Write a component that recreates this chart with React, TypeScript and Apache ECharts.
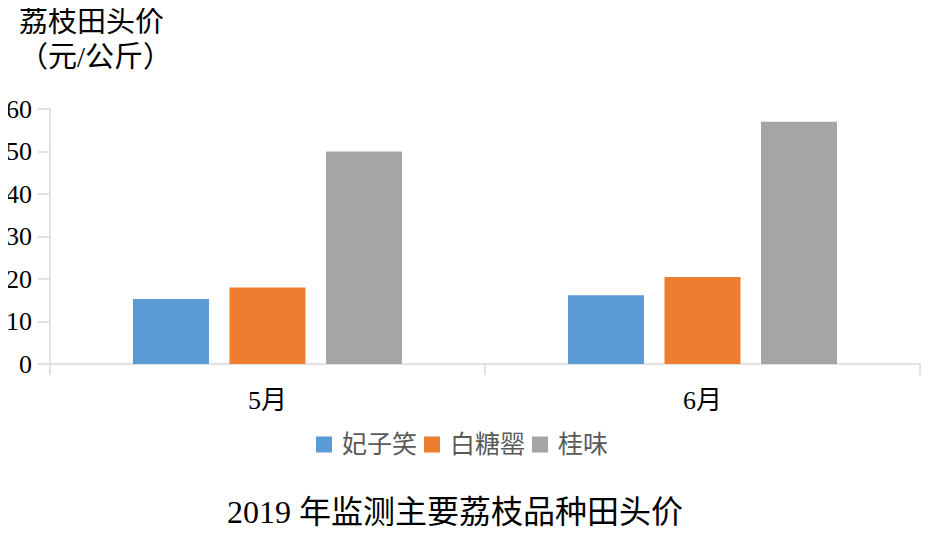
import React, { useEffect, useRef } from "react";
import * as echarts from "echarts";

const categories = ["5月", "6月"];
const seriesNames = ["妃子笑", "白糖罂", "桂味"];
const feiZiXiao = [15.3, 16.2];
const baiTangYing = [18.0, 20.5];
const guiWei = [50.0, 57.0];
const yTicks = { min: 0, max: 60, interval: 10 };
const colors = ["#5b9bd5", "#ed7d31", "#a5a5a5"];
const yTitle = "荔枝田头价\n（元/公斤）";
const bottomTitle = "2019 年监测主要荔枝品种田头价";

const FONT = "'Liberation Serif', 'Noto Sans CJK SC', serif";
const SHIFT = 20;

export default function App() {
  const ref = useRef<HTMLDivElement>(null);
  useEffect(() => {
    if (!ref.current) return;
    const chart = echarts.init(ref.current, null, { renderer: "svg" });
    const values = [feiZiXiao, baiTangYing, guiWei];
    chart.setOption({
      animation: false,
      backgroundColor: "#ffffff",
      textStyle: { fontFamily: FONT },
      grid: {
        left: 50 + SHIFT,
        right: 10,
        top: 109,
        bottom: 184,
        containLabel: false,
        outerBoundsMode: "none",
      },
      legend: {
        data: seriesNames,
        left: 311 + SHIFT,
        top: 427,
        icon: "rect",
        itemWidth: 16,
        itemHeight: 16,
        itemGap: 7,
        textStyle: { fontSize: 25, color: "#595959", fontFamily: FONT, padding: [0, 0, 0, 5] },
      },
      xAxis: {
        type: "category",
        data: categories,
        axisLine: { show: true, lineStyle: { color: "#d9d9d9", width: 1.5 } },
        axisTick: { show: true, length: 11, lineStyle: { color: "#d9d9d9", width: 1.5 } },
        axisLabel: { fontSize: 26, color: "#000", margin: 23, fontFamily: FONT },
      },
      yAxis: {
        type: "value",
        min: yTicks.min,
        max: yTicks.max,
        interval: yTicks.interval,
        axisLine: { show: true, lineStyle: { color: "#d9d9d9", width: 1.5 } },
        axisTick: { show: true, length: 12, lineStyle: { color: "#d9d9d9", width: 1.5 } },
        splitLine: { show: false },
        axisLabel: {
          fontSize: 26,
          color: "#000",
          margin: 18,
          fontFamily: FONT,
          hideOverlap: false,
        },
      },
      series: seriesNames.map((name, i) => ({
        name,
        type: "bar",
        data: values[i],
        barWidth: 76,
        barGap: "27%",
        itemStyle: { color: colors[i] },
      })),
      graphic: [
        {
          type: "text",
          left: 19 + SHIFT,
          top: 4,
          style: {
            text: yTitle,
            fontSize: 29,
            lineHeight: 35,
            fill: "#000",
            fontFamily: FONT,
          },
        },
        {
          type: "text",
          left: "center",
          top: 496,
          style: {
            text: bottomTitle,
            fontSize: 32,
            fill: "#000",
            fontFamily: FONT,
          },
        },
      ],
    });
    return () => chart.dispose();
  }, []);
  return (
    <div
      ref={ref}
      style={{ width: 930 + SHIFT, height: 548, marginLeft: -8 - SHIFT, marginTop: -8 }}
    />
  );
}
